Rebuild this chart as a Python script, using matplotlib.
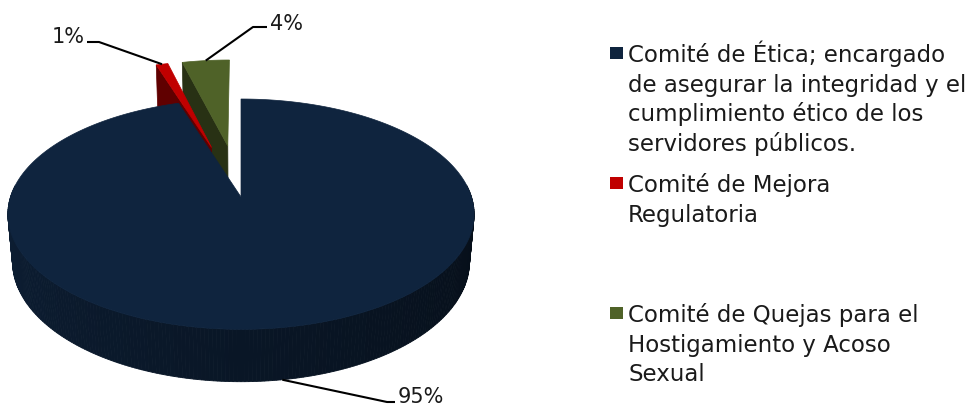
import numpy as np
import matplotlib.pyplot as plt
from matplotlib.patches import Polygon, Rectangle
from matplotlib.colors import to_rgb

# datos del gráfico
valores = [95, 1, 4]
etiquetas = ['Comité de Ética; encargado\nde asegurar la integridad y el\ncumplimiento ético de los\nservidores públicos.',
             'Comité de Mejora\nRegulatoria',
             'Comité de Quejas para el\nHostigamiento y Acoso\nSexual']
colores = ['#0F243E', '#C00000', '#4F6228']
separacion = [0.0, 0.49, 0.49]

# pastel 3D: proyección en perspectiva
cx, cy, S = 241, 198, 230.5
sin_t, cos_t = 0.4885, 0.8726
k = 0.1708
h = 0.24

def proj(u, v, z):
    Y = v * sin_t + z * cos_t
    Zc = v * cos_t - z * sin_t
    w = 1 + Zc * k
    return cx + S * u / w, cy - S * Y / w

def sombra(c, f):
    return tuple(np.clip(np.array(to_rgb(c)) * f, 0, 1))

fig = plt.figure(figsize=(9.75, 4.06), dpi=100)
ax = fig.add_axes([0, 0, 1, 1])
ax.set_xlim(0, 975)
ax.set_ylim(406, 0)
ax.axis('off')

total = sum(valores)
angulos = []
ini = 0.0
for v in valores:
    fin = ini + 360.0 * v / total
    angulos.append((ini, fin))
    ini = fin

anclas = []
# los sectores separados (atrás) primero, el grande al final
for i in [2, 1, 0]:
    t1, t2 = np.radians(angulos[i])
    tm = (t1 + t2) / 2
    e = separacion[i]
    du, dv = e * np.sin(tm), e * np.cos(tm)
    col = colores[i]

    # caras de corte
    for t, nv in [(t1, np.sin(t1)), (t2, -np.sin(t2))]:
        if nv < -0.01:
            pts = [proj(du, dv, 0), proj(du + np.sin(t), dv + np.cos(t), 0),
                   proj(du + np.sin(t), dv + np.cos(t), -h), proj(du, dv, -h)]
            c = sombra(col, 0.5)
            ax.add_patch(Polygon(pts, closed=True, fc=c, ec=c, lw=0.5))

    # pared exterior
    th = np.linspace(t1, t2, 400)
    segs = []
    for a, b in zip(th[:-1], th[1:]):
        if np.cos((a + b) / 2) < 0.1:
            segs.append((a, b))
    segs.sort(key=lambda s: -np.cos((s[0] + s[1]) / 2))
    for a, b in segs:
        deg = np.degrees((a + b) / 2)
        f = 0.38 + (0.85 - 0.38) * np.clip((deg - 90) / 180, 0, 1)
        c = sombra(col, f)
        pts = [proj(du + np.sin(a), dv + np.cos(a), 0), proj(du + np.sin(b), dv + np.cos(b), 0),
               proj(du + np.sin(b), dv + np.cos(b), -h), proj(du + np.sin(a), dv + np.cos(a), -h)]
        ax.add_patch(Polygon(pts, closed=True, fc=c, ec=c, lw=0.6))

    # cara superior
    pts = [proj(du, dv, 0)] + [proj(du + np.sin(t), dv + np.cos(t), 0) for t in th]
    ax.add_patch(Polygon(pts, closed=True, fc=col, ec=col, lw=0.5))

    z = -h if np.cos(tm) < 0 else 0
    anclas.append((i, proj(du + np.sin(tm), dv + np.cos(tm), z)))

anclas = dict(anclas)
porcentajes = [f'{round(100 * v / total)}%' for v in valores]

# etiquetas de datos con líneas guía
fuente = 'DejaVu Sans'
guia = {0: [(387, 403), (395, 403)], 1: [(99, 43), (87, 43)], 2: [(253, 28), (267, 28)]}
pos_txt = {0: (398, 403, 'left'), 1: (85, 43, 'right'), 2: (270, 30, 'left')}
for i in range(len(valores)):
    x0, y0 = anclas[i]
    xs = [x0] + [p[0] for p in guia[i]]
    ys = [y0] + [p[1] for p in guia[i]]
    ax.plot(xs, ys, color='black', lw=1.5, solid_capstyle='butt')
    tx, ty, ha = pos_txt[i]
    ax.text(tx, ty, porcentajes[i], fontsize=15, family=fuente, ha=ha, va='baseline', color='#1a1a1a')

# leyenda
base_y = [62, 192, 322]
for i, lab in enumerate(etiquetas):
    ax.add_patch(Rectangle((610, base_y[i] - 14), 13, 12, fc=colores[i], ec='none'))
    for j, linea in enumerate(lab.split('\n')):
        ax.text(628, base_y[i] + 29.7 * j, linea, fontsize=16.5, family=fuente,
                ha='left', va='baseline', color='#1a1a1a')

fig.savefig('out.png', dpi=100)
